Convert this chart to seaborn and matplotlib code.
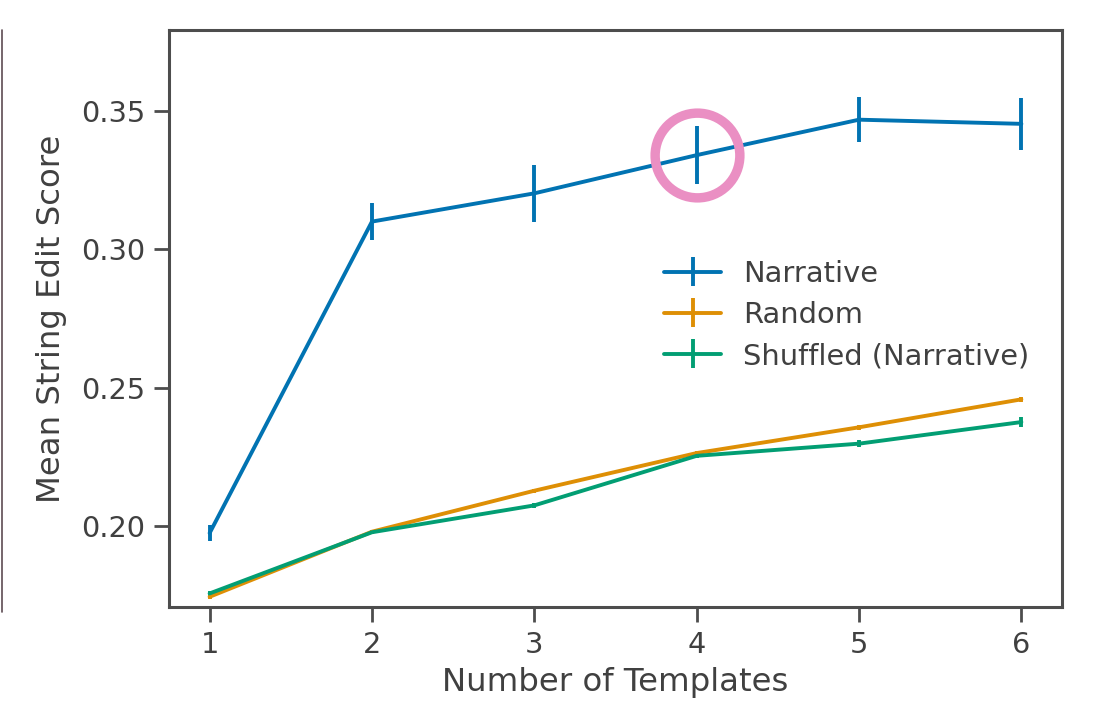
import matplotlib
matplotlib.use("Agg")
import matplotlib.pyplot as plt
from matplotlib.lines import Line2D
import seaborn as sns

# values
templates = [1, 2, 3, 4, 5, 6]
narrative = [0.1975, 0.310, 0.3202, 0.3340, 0.3468, 0.3453]
narrative_err = [0.0028, 0.0067, 0.0103, 0.0105, 0.0082, 0.0095]
random_ = [0.1745, 0.1980, 0.2128, 0.2264, 0.2357, 0.2458]
random_err = [0.0007, 0.0005, 0.0007, 0.0007, 0.0008, 0.0010]
shuffled = [0.1757, 0.1978, 0.2075, 0.2254, 0.2298, 0.2376]
shuffled_err = [0.0010, 0.0007, 0.0008, 0.0009, 0.0013, 0.0017]
labels = ["Narrative", "Random", "Shuffled (Narrative)"]
highlight_x = 4
highlight_y = 0.3340

sns.set_theme(style="ticks", palette="colorblind")
plt.rcParams["font.family"] = ["DejaVu Sans"]
plt.rcParams["text.color"] = ".25"
plt.rcParams["axes.labelcolor"] = ".25"
plt.rcParams["xtick.color"] = ".25"
plt.rcParams["ytick.color"] = ".25"

colors = sns.color_palette("colorblind")

fig = plt.figure(figsize=(10.94, 7.02), dpi=100)
ax = fig.add_axes([0.1545, 0.1353, 0.8162, 0.822])

series = [(narrative, narrative_err), (random_, random_err), (shuffled, shuffled_err)]
for (vals, errs), lab, c in zip(series, labels, colors):
    ax.errorbar(templates, vals, yerr=errs, label=lab, color=c,
                linewidth=2.8, elinewidth=2.8, capsize=0)

# highlight circle
ax.plot([highlight_x], [highlight_y], marker="o", markersize=61,
        markerfacecolor="none", markeredgecolor="#ea8fc3",
        markeredgewidth=6.8, linestyle="none", zorder=5)

ax.set_ylim(0.1708, 0.3792)
ax.set_xlim(0.75, 6.25)
ax.set_xticks(templates)
ax.set_yticks([0.20, 0.25, 0.30, 0.35])
ax.set_xlabel("Number of Templates", fontsize=23.3, labelpad=6)
ax.set_ylabel("Mean String Edit Score", fontsize=23.3, labelpad=10)
ax.tick_params(labelsize=20.7, length=11, width=2, pad=6, color=".3")
for s in ax.spines.values():
    s.set_linewidth(2.2)
    s.set_color(".3")

ax.legend(loc="center left", bbox_to_anchor=(0.541, 0.506), frameon=False,
          fontsize=20.8, borderaxespad=0, handlelength=2.0,
          labelspacing=0.45, handletextpad=0.75)

# edge of a neighbouring panel, cropped in the reference
fig.add_artist(Line2D([0.0015, 0.0015], [1 - 30 / 702, 1 - 612 / 702],
                      color="#5e4c53", linewidth=1.2))

fig.savefig("out.png", dpi=100)
